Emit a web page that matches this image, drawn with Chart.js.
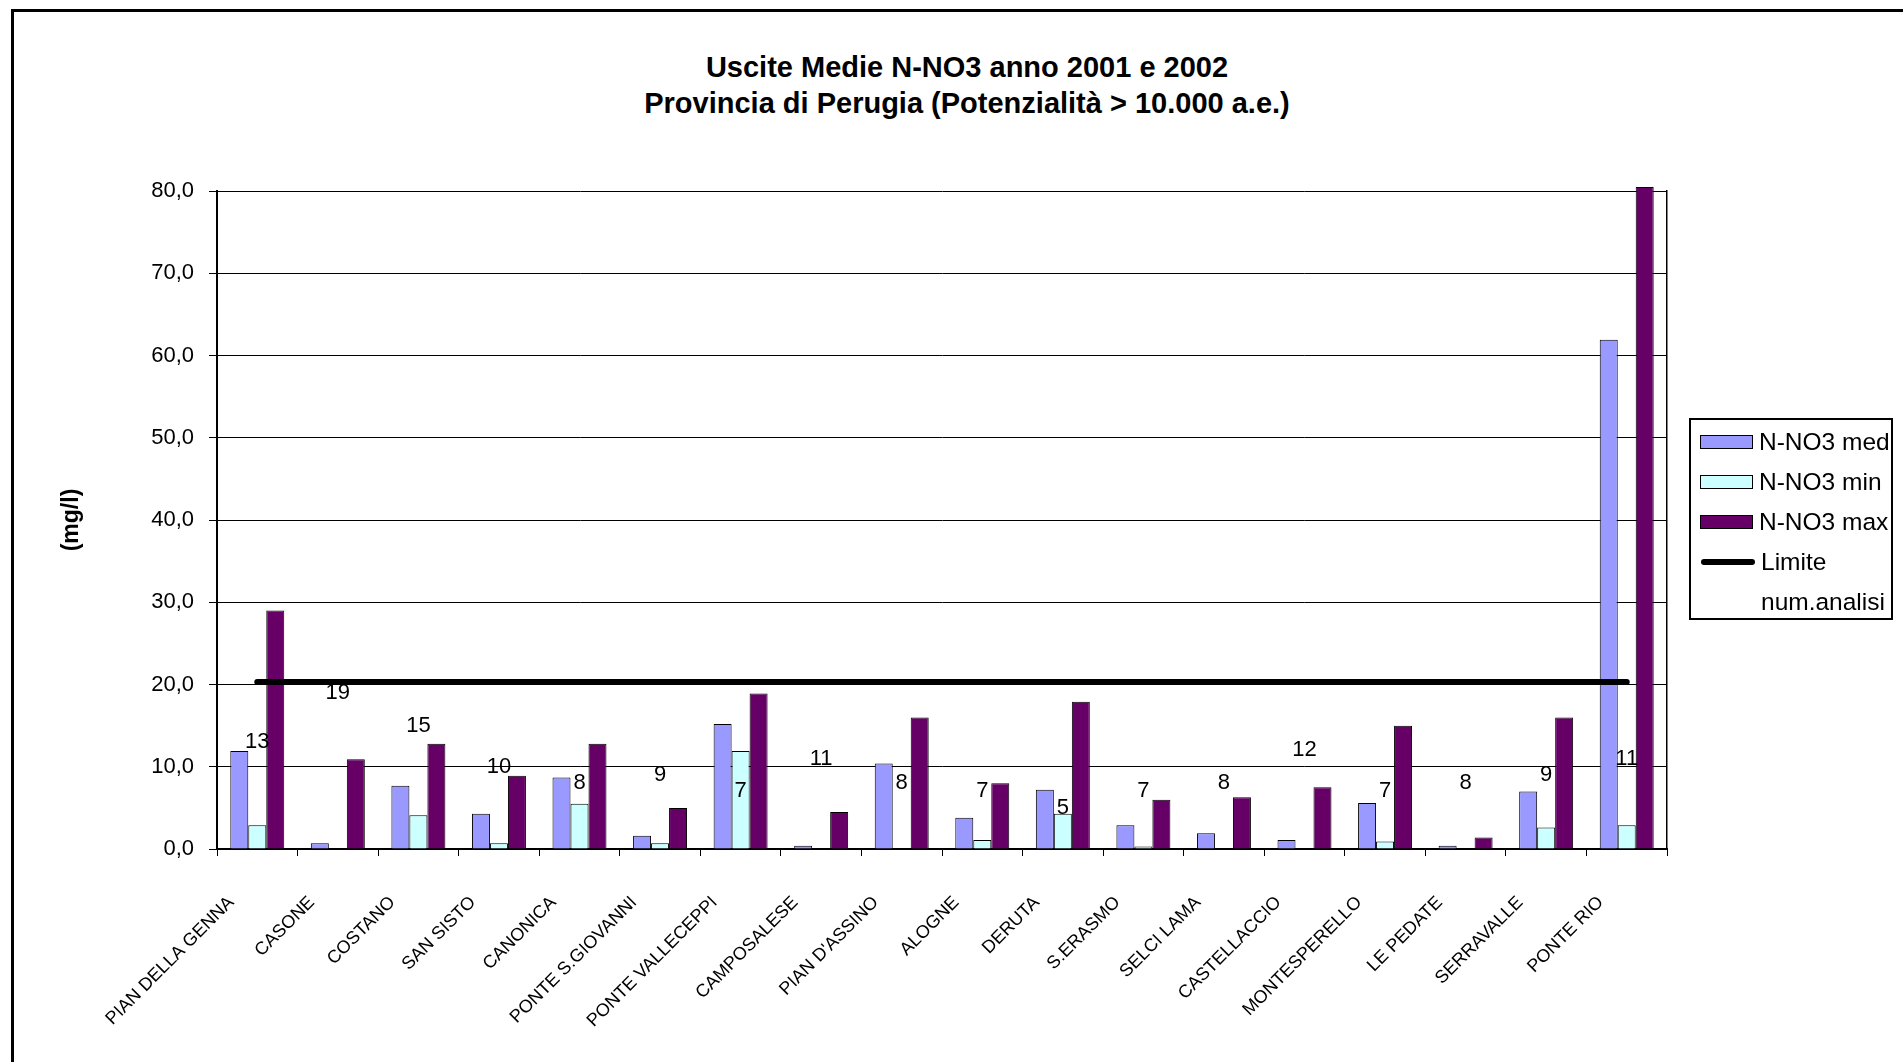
<!DOCTYPE html>
<html lang="it">
  <head>
    <meta charset="UTF-8" />
    <title>Uscite Medie N-NO3 anno 2001 e 2002</title>
    <script src="https://cdn.jsdelivr.net/npm/chart.js"></script>
    <style>
      body { margin: 0; background: #fff; overflow: hidden; font-family: "Liberation Sans", Arial, sans-serif; }
      #frame { position: absolute; left: 11px; top: 9px; width: 2000px; height: 2000px; border-left: 3px solid #000; border-top: 3px solid #000; }
      #title { position: absolute; left: 0; width: 1934px; top: 49px; text-align: center; font-weight: bold; font-size: 29px; line-height: 36px; color: #000; }
      canvas { position: absolute; left: 0; top: 0; }
      #legend { position: absolute; left: 1689px; top: 418px; width: 200px; height: 198px; border: 2px solid #000; background: #fff; }
      .row { position: absolute; left: 0; height: 40px; display: flex; align-items: center; font-size: 24.5px; color: #000; white-space: nowrap; }
      .sw { width: 51px; height: 12px; border: 1.5px solid #000; margin: 0 6px 0 9px; }
      .ln { width: 54px; height: 6px; border-radius: 3px; background: #000; margin: 0 6px 0 10px; }
      .none { width: 54px; margin: 0 6px 0 10px; }
    </style>
  </head>
  <body>
    <div id="frame"></div>
    <div id="title">Uscite Medie N-NO3 anno 2001 e 2002<br />Provincia di Perugia (Potenzialità &gt; 10.000 a.e.)</div>
    <canvas id="chart" width="1903" height="1062"></canvas>
    <div id="legend"></div>

    <script>
      const impianti = [
        "PIAN DELLA GENNA", "CASONE", "COSTANO", "SAN SISTO", "CANONICA",
        "PONTE S.GIOVANNI", "PONTE VALLECEPPI", "CAMPOSALESE", "PIAN D'ASSINO",
        "ALOGNE", "DERUTA", "S.ERASMO", "SELCI LAMA", "CASTELLACCIO",
        "MONTESPERELLO", "LE PEDATE", "SERRAVALLE", "PONTE RIO",
      ];
      const no3Med = [11.9, 0.7, 7.7, 4.3, 8.7, 1.6, 15.2, 0.4, 10.4, 3.8, 7.2, 2.9, 1.9, 1.1, 5.6, 0.4, 7.0, 61.9];
      const no3Min = [2.9, null, 4.1, 0.7, 5.5, 0.7, 11.9, null, null, 1.1, 4.3, 0.3, null, null, 0.9, null, 2.6, 2.9];
      const no3Max = [29.0, 10.9, 12.8, 8.9, 12.8, 5.0, 18.9, 4.5, 16.0, 8.0, 17.9, 6.0, 6.3, 7.5, 15.0, 1.4, 16.0, 80.5];
      const limite = [20.3, 20.3, 20.3, 20.3, 20.3, 20.3, 20.3, 20.3, 20.3, 20.3, 20.3, 20.3, 20.3, 20.3, 20.3, 20.3, 20.3, 20.3];
      const numAnalisi = [13, 19, 15, 10, 8, 9, 7, 11, 8, 7, 5, 7, 8, 12, 7, 8, 9, 11];
      const yTicks = [0, 10, 20, 30, 40, 50, 60, 70, 80];

      const FONT = '"Liberation Sans", Arial, sans-serif';

      // numbers of analyses written at their own value
      const numLabels = {
        id: "numLabels",
        afterDatasetsDraw(chart) {
          const i = chart.data.datasets.findIndex((d) => d.label === "num.analisi");
          const meta = chart.getDatasetMeta(i);
          const ctx = chart.ctx;
          ctx.save();
          ctx.font = "22px " + FONT;
          ctx.fillStyle = "#000";
          ctx.textAlign = "center";
          ctx.textBaseline = "middle";
          meta.data.forEach((pt, k) => ctx.fillText(String(numAnalisi[k]), pt.x, pt.y));
          ctx.restore();
        },
      };

      const chart = new Chart(document.getElementById("chart"), {
        type: "bar",
        data: {
          labels: impianti,
          datasets: [
            { label: "N-NO3 med", data: no3Med, backgroundColor: "#9999FF", borderColor: "#000", borderWidth: 1, order: 1 },
            { label: "N-NO3 min", data: no3Min, backgroundColor: "#CCFFFF", borderColor: "#000", borderWidth: 1, order: 1 },
            { label: "N-NO3 max", data: no3Max, backgroundColor: "#660066", borderColor: "#000", borderWidth: 1, order: 1, clip: false },
            {
              type: "line", label: "Limite", data: limite, borderColor: "#000", borderWidth: 6,
              borderCapStyle: "round", pointRadius: 0, fill: false, order: 0,
            },
            {
              type: "line", label: "num.analisi", data: numAnalisi, showLine: false,
              pointRadius: 0, borderColor: "transparent", order: 0,
            },
          ],
        },
        options: {
          responsive: false,
          animation: false,
          layout: { padding: { left: 53, right: 236, top: 191, bottom: 0 } },
          datasets: { bar: { categoryPercentage: 0.67, barPercentage: 1 } },
          plugins: { legend: { display: false }, tooltip: { enabled: false } },
          scales: {
            x: {
              offset: true,
              grid: { offset: true, drawOnChartArea: false, drawTicks: true, tickLength: 7, tickColor: "#000" },
              border: { color: "#000", width: 2 },
              ticks: {
                color: "#000",
                font: { family: FONT, size: 18 },
                maxRotation: 45, minRotation: 45, autoSkip: false, padding: 36, labelOffset: -26,
              },
              afterFit(scale) { scale.height = 213; },
            },
            y: {
              min: 0, max: 80,
              afterBuildTicks(scale) { scale.ticks = yTicks.map((v) => ({ value: v })); },
              grid: { color: "#000", lineWidth: 1, tickLength: 8, tickColor: "#000" },
              border: { color: "#000", width: 2 },
              ticks: {
                color: "#000", padding: 15, font: { family: FONT, size: 22 },
                callback: (v) => v.toFixed(1).replace(".", ","),
              },
              title: {
                display: true, text: "(mg/l)", color: "#000",
                font: { family: FONT, size: 23, weight: "bold" }, padding: { top: 5, bottom: 0 },
              },
              afterFit(scale) { scale.width = 164; },
            },
            y2: {
              position: "right", min: 0, max: 80,
              grid: { drawOnChartArea: false, drawTicks: false },
              border: { color: "#000", width: 1.5 },
              ticks: { display: false },
              afterFit(scale) { scale.width = 0; },
            },
          },
        },
        plugins: [numLabels],
      });

      // legend box built from the datasets
      const legend = document.getElementById("legend");
      chart.data.datasets.forEach((ds, i) => {
        const row = document.createElement("div");
        row.className = "row";
        row.style.top = 2 + i * 40 + "px";
        const mark = document.createElement("div");
        if (ds.type === "line" && ds.showLine !== false) mark.className = "ln";
        else if (ds.type === "line") mark.className = "none";
        else { mark.className = "sw"; mark.style.background = ds.backgroundColor; }
        row.appendChild(mark);
        row.appendChild(document.createTextNode(ds.label));
        legend.appendChild(row);
      });
    </script>
  </body>
</html>
